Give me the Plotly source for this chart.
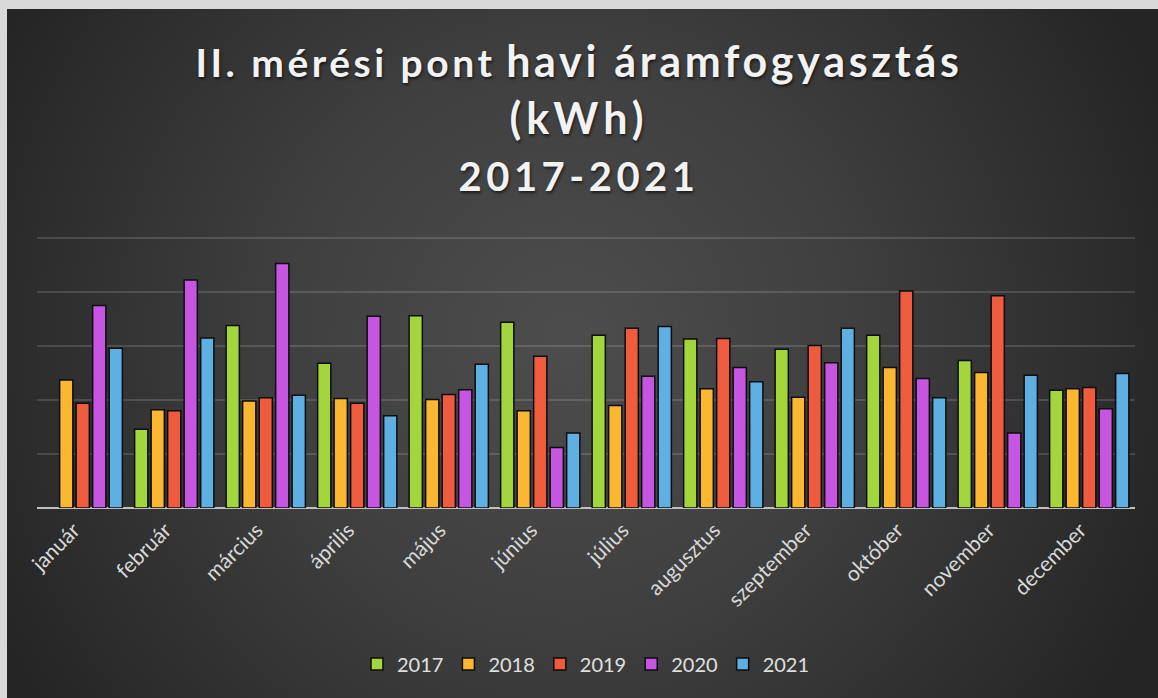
import base64
import plotly.graph_objects as go

months = ["január", "február", "március", "április", "május", "június",
          "július", "augusztus", "szeptember", "október", "november", "december"]
years = ["2017", "2018", "2019", "2020", "2021"]

v2017 = [None, 146, 338, 268, 356, 344, 320, 313, 294, 320, 273, 218]
v2018 = [237, 182, 198, 203, 201, 180, 190, 221, 205, 260, 251, 221]
v2019 = [194, 180, 204, 194, 210, 281, 333, 314, 301, 402, 393, 223]
v2020 = [375, 422, 453, 355, 219, 112, 244, 260, 269, 240, 139, 184]
v2021 = [296, 315, 209, 171, 266, 139, 336, 234, 333, 204, 246, 249]

series = [v2017, v2018, v2019, v2020, v2021]
colors = ["#a3d53c", "#fbb632", "#ee5b3d", "#c655e2", "#5eb0e2"]

W, H = 1158, 698
ML, MR, MT, MB = 37, 23, 228, 190
PW, PH = W - ML - MR, H - MT - MB
YMAX = 500 * PH / 270.0  # 500 sits at pixel row 238, leaving room for its gridline

fig = go.Figure()
for name, vals, col in zip(years, series, colors):
    fig.add_trace(go.Bar(
        x=months, y=vals, name=name,
        marker=dict(color=col, line=dict(color="#0d0d0d", width=1.5)),
    ))

# radial gradient background (chart area inside light frame)
bx0, by0 = 7, 9
bw, bh = W - bx0, H - by0
svg = f'''<svg xmlns="http://www.w3.org/2000/svg" width="{bw}" height="{bh}" viewBox="0 0 {bw} {bh}" preserveAspectRatio="none">
<defs><radialGradient id="g" gradientUnits="userSpaceOnUse" cx="560" cy="330" r="640">
<stop offset="0" stop-color="#4d4d4d"/><stop offset="0.45" stop-color="#3f3f3f"/>
<stop offset="1" stop-color="#252525"/></radialGradient></defs>
<rect width="{bw}" height="{bh}" fill="url(#g)"/></svg>'''
src = "data:image/svg+xml;base64," + base64.b64encode(svg.encode()).decode()

fig.add_layout_image(dict(
    source=src, xref="paper", yref="paper",
    x=(bx0 - ML) / PW, y=(H - MB - by0) / PH,
    sizex=bw / PW, sizey=bh / PH,
    xanchor="left", yanchor="top", sizing="stretch", layer="below",
))

title_text = ("<span style='font-size:39px;letter-spacing:3.5px'>II. mérési pont</span> "
              "<span style='font-size:43px;letter-spacing:3.7px'>havi áramfogyasztás</span><br>"
              "<span style='font-size:43px;letter-spacing:5px'>(kWh)</span><br>"
              "<span style='font-size:40px;letter-spacing:4.5px'>2017-2021</span>")

fig.update_layout(
    width=W, height=H,
    margin=dict(l=ML, r=MR, t=MT, b=MB, autoexpand=False),
    paper_bgcolor="#d9d9d9",
    plot_bgcolor="rgba(0,0,0,0)",
    barmode="group", bargap=0.098, bargroupgap=0.2,
    title=dict(text=title_text, x=0.5, xanchor="center", xref="container",
               y=0.89, yanchor="top", yref="container",
               font=dict(family="Lato", size=44, color="#f2f2f2",
                         weight="bold", shadow="1px 2px 3px rgba(0,0,0,0.6)")),
    font=dict(family="Lato", color="#d9d9d9"),
    xaxis=dict(tickangle=-45, tickfont=dict(size=21, color="#d9d9d9"),
               ticklabelshift=-9, ticklabelstandoff=5,
               showgrid=False, showline=False, ticks=""),
    yaxis=dict(range=[0, YMAX], tickvals=[100, 200, 300, 400, 500], showticklabels=False,
               showgrid=True, gridcolor="rgba(255,255,255,0.14)", gridwidth=1.5,
               zeroline=True, zerolinecolor="#bfbfbf", zerolinewidth=2,
               showline=False, ticks=""),
    legend=dict(orientation="h", x=0.5, xanchor="center", y=(H - MB - 664) / PH,
                yanchor="middle", font=dict(size=20, color="#e0e0e0"),
                bgcolor="rgba(0,0,0,0)"),
)

fig.write_html("out.html", config={"displayModeBar": False}, post_script=(
    "document.body.style.margin='0';"
    "document.body.style.overflow='hidden';"
    "document.body.style.background='#d9d9d9';"))
